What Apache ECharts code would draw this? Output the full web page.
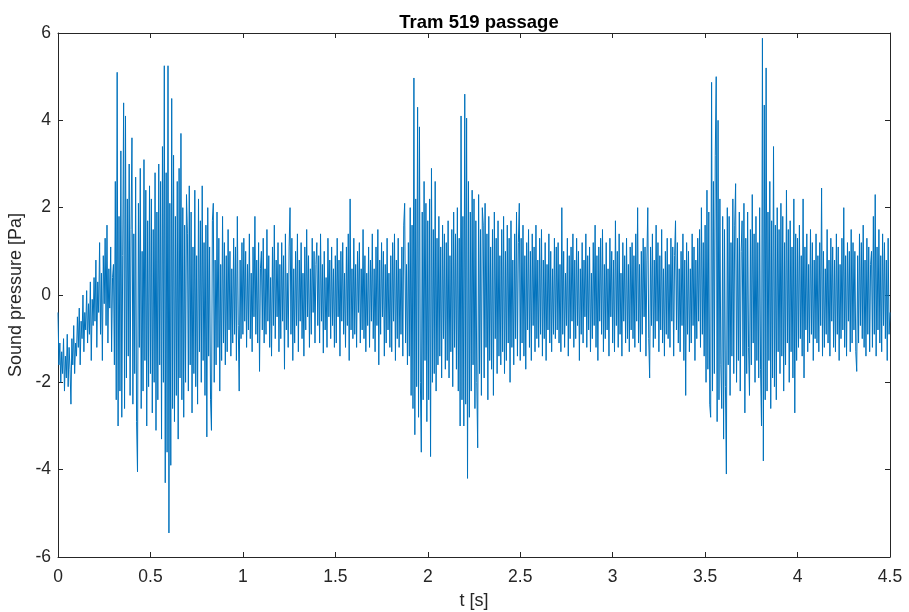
<!DOCTYPE html>
<html>
<head>
<meta charset="utf-8">
<script src="https://cdn.jsdelivr.net/npm/echarts@6/dist/echarts.min.js"></script>
<style>html,body{margin:0;padding:0;background:#fff}#c{width:909px;height:612px}</style>
</head>
<body>
<div id="c"></div>
<script>
const titleText = 'Tram 519 passage';
const xLabel = 't [s]';
const yLabel = 'Sound pressure [Pa]';
const sampleStep = 0.005; // s between samples
const xTicks = [0, 0.5, 1, 1.5, 2, 2.5, 3, 3.5, 4, 4.5];
const yTicks = [-6, -4, -2, 0, 2, 4, 6];

// Sound pressure [Pa], 0.5 s per array
const p_0_05 = [
-0.4,-1.6,-1.1,-2.0,-1.3,-1.8,-1.0,-2.2,-1.4,-1.9,-0.9,-2.1,-1.2,-1.7,-2.5,-1.0,-1.6,-0.7,-1.8,-1.1,
-1.4,-0.5,-1.2,-0.3,-1.6,-0.6,-1.0,0.0,-1.3,-0.4,-0.8,0.1,-1.1,-0.2,-0.9,0.3,-1.5,-0.1,-0.7,0.4,
-0.6,0.8,-1.2,0.3,-0.4,1.2,-0.9,0.5,-1.5,0.9,-0.2,1.3,-0.7,1.6,-1.1,0.6,-0.3,1.1,-1.3,0.4,
0.7,-1.6,2.6,-2.4,5.1,-3.0,1.8,-2.2,3.3,-2.8,0.9,4.4,-2.6,4.1,-1.9,2.2,-1.4,3.0,-2.3,1.5,
3.6,-2.5,1.4,-1.8,2.7,-2.9,-4.05,2.1,-1.2,2.9,-2.6,1.0,-2.2,3.1,-1.5,2.4,-3.0,1.7,-2.1,2.5
];
const p_05_1 = [
-1.8,2.2,-2.7,1.5,-2.0,2.8,-3.1,1.9,-2.4,3.0,-1.6,2.6,-3.3,3.4,-2.0,5.25,-4.3,2.8,-3.6,5.25,
-5.45,2.1,-3.9,4.5,-2.6,3.2,-2.9,1.8,-2.3,2.6,-3.3,2.9,-1.9,3.7,-2.4,2.0,-2.8,1.6,-2.0,2.3,
1.4,-2.2,2.5,-1.6,1.9,-2.7,1.1,-1.8,2.4,-2.1,0.9,-2.5,2.2,-1.3,1.7,-2.0,2.5,-1.5,1.2,-2.3,
1.6,-3.25,2.0,-1.4,1.1,-2.4,-3.1,1.7,2.1,-2.0,0.8,-1.6,1.9,-1.2,1.3,-2.2,0.7,-1.5,1.8,-1.1,
1.2,-1.6,0.9,-1.3,1.5,-0.8,1.0,-1.4,0.6,-1.1,1.3,-0.9,1.1,-1.5,1.8,-0.7,-2.2,0.8,-1.0,1.2
];
const p_1_15 = [
-0.9,1.3,-0.6,1.0,-1.2,0.7,-0.8,1.4,-1.0,0.5,-1.3,1.1,-0.5,1.8,-0.9,0.8,-1.1,1.2,-1.75,0.6,
1.0,-0.8,1.3,-1.1,0.6,-0.9,1.5,-0.6,0.9,-1.2,0.4,-1.4,1.1,-0.7,1.6,-1.0,0.8,-0.5,1.2,-1.3,
0.7,-1.0,1.2,-0.6,0.9,-1.7,1.4,-0.8,0.5,-1.2,1.1,2.0,-0.9,1.3,-1.5,0.6,-1.1,1.0,-0.7,1.4,
-1.3,0.8,-0.6,1.2,-1.0,0.5,-1.4,1.1,-0.8,1.5,-0.5,0.9,-1.2,0.6,-0.9,1.3,-0.4,1.0,-1.1,0.7,
1.2,-0.7,0.9,-1.1,1.4,-0.6,0.7,-1.33,1.0,-0.8,0.4,-1.2,1.3,-0.5,0.8,-1.0,1.1,-0.7,0.6,-1.2
];
const p_15_2 = [
0.9,-1.1,1.3,-0.5,0.8,-1.4,1.0,-0.6,1.2,-0.9,0.5,-1.2,1.1,-0.7,1.4,-1.5,2.2,-0.8,0.6,-1.0,
1.3,-0.9,0.7,-1.2,1.0,-0.4,1.2,-1.1,0.6,-0.8,1.5,-1.0,0.9,-1.3,0.5,-0.7,1.1,-1.2,0.8,-0.6,
1.4,-1.0,0.6,-1.3,1.1,-0.7,1.5,-1.6,0.8,-0.9,1.2,-0.5,1.0,-1.4,0.7,-1.1,1.3,-0.8,0.5,-1.2,
0.9,-1.3,1.2,-0.6,1.4,-1.5,0.8,-1.0,1.3,-1.2,0.6,-0.9,1.1,-1.4,1.6,2.1,-1.1,0.7,-1.6,1.2,
-1.4,2.0,-2.3,1.6,-2.6,4.97,-3.2,2.2,-2.1,4.3,-2.8,3.85,-2.0,-3.6,1.9,-2.4,2.6,-1.5,2.1,-2.9
];
const p_2_25 = [
1.7,-2.4,2.2,-3.7,2.9,-2.0,1.5,-1.8,2.6,-2.2,1.3,-1.6,1.8,-1.4,1.1,-1.9,1.6,-1.0,1.4,-1.7,
1.2,-1.5,1.7,-1.9,0.9,-1.3,1.5,-2.1,1.9,-1.2,1.4,-1.7,2.0,-2.2,1.3,-3.0,4.1,-2.4,1.8,-3.0,
4.6,-2.5,4.05,-4.2,2.6,-2.8,1.9,-2.2,2.4,-1.6,2.2,-2.6,1.7,-2.0,-3.5,2.3,-1.8,1.5,-2.3,2.0,
1.6,-1.9,2.1,-1.2,1.4,-2.4,1.8,-1.5,1.1,-1.7,1.5,-2.3,1.9,-1.0,1.3,-1.8,1.7,-1.4,0.9,-1.6,
1.5,-1.3,1.8,-1.8,1.0,-1.5,1.6,-1.1,1.3,-2.0,1.7,-1.2,0.8,-1.6,1.4,-1.0,1.9,-1.4,1.2,2.1
];
const p_25_3 = [
-1.5,1.3,-1.1,1.6,-1.4,0.9,-1.7,1.2,-0.8,1.5,-1.2,1.0,-1.5,1.4,-0.7,1.1,-1.3,1.6,-1.0,0.8,
-1.2,1.3,-0.9,1.5,-1.4,0.8,-1.0,1.2,-1.5,0.7,-0.8,1.4,-1.1,1.0,-1.3,0.6,-0.9,1.3,-1.0,1.1,
-0.8,1.2,-1.1,0.7,-1.3,2.0,-0.9,1.0,-1.2,0.5,-0.7,1.3,-1.4,0.9,-1.0,1.1,-0.6,1.4,-1.2,0.8,
-1.0,1.3,-0.7,1.0,-1.5,0.6,-0.9,1.2,-1.1,0.8,-0.5,1.4,-1.2,0.9,-0.8,1.1,-1.3,0.5,-1.0,1.2,
-0.7,1.6,-1.2,0.9,-1.5,1.1,-0.6,1.3,-0.9,1.5,-1.3,0.7,-1.0,1.2,-0.8,0.6,-1.4,1.3,-0.5,1.0
];
const p_3_35 = [
-1.1,0.8,-1.3,1.7,-0.7,1.0,-1.2,1.4,-0.9,0.5,-1.4,1.2,-0.6,0.9,-1.1,1.3,-1.0,0.7,-1.3,1.1,
-0.8,1.2,-1.0,0.9,-1.2,1.4,-0.6,2.0,-1.1,0.7,-1.3,1.0,-0.9,1.3,-0.5,1.1,-1.4,0.8,2.0,-1.0,
-1.9,1.1,-0.7,1.4,-1.2,0.8,-1.0,1.6,-0.6,1.2,-1.3,0.9,-0.8,1.5,-1.1,0.6,-1.4,1.0,-0.9,1.3,
-1.0,0.7,-1.2,1.3,-0.6,1.1,-1.4,0.9,1.7,-0.8,1.2,-1.1,0.6,-1.3,1.0,-0.7,1.4,-1.5,0.8,-2.3,
1.2,-0.9,1.0,-1.3,0.6,-1.1,1.4,-0.7,1.1,-1.5,0.8,-1.0,1.3,-0.6,1.5,-1.2,2.0,-0.9,1.2,-1.4
];
const p_35_4 = [
1.6,-2.0,2.4,-1.7,1.9,-2.5,-2.8,4.87,-2.2,2.6,-1.8,3.2,5.0,-2.9,4.0,-2.4,2.2,-1.6,-2.6,1.8,
-3.3,1.5,-2.1,-4.1,2.0,-1.6,1.8,-2.3,1.2,-1.4,2.2,-1.8,1.6,2.55,-2.0,1.3,-1.5,1.9,-2.2,1.0,
1.7,-1.4,2.1,-2.7,1.3,-1.8,1.9,-1.2,-2.3,1.5,-1.6,2.3,-1.1,1.4,-2.0,1.8,-1.5,1.2,-1.9,2.0,
-1.7,-3.0,5.88,-3.8,4.35,-2.4,5.2,-2.2,1.9,-1.5,2.6,-2.6,1.7,-1.9,3.4,-2.1,1.6,-2.4,2.0,-1.3,
1.5,-1.8,2.1,-1.4,1.8,-2.2,1.2,-1.6,2.4,-1.1,1.5,-2.0,1.7,-1.3,1.1,-1.9,2.2,-2.7,1.4,-1.5
];
const p_4_45 = [
1.3,-1.2,1.6,-1.0,0.9,-1.4,2.2,-1.9,1.1,-0.8,1.4,-1.3,0.7,-1.1,1.5,-0.9,1.2,-1.5,0.8,-1.0,
1.4,-1.1,0.9,-1.3,1.2,-0.7,2.45,-1.4,1.0,-1.2,0.6,-0.9,1.5,-1.1,0.8,-1.4,1.3,-0.6,1.1,-1.2,
0.8,-1.3,1.4,-0.9,1.1,-1.5,0.7,-1.0,1.3,-0.8,2.0,-1.2,0.9,-1.4,1.2,-0.6,1.0,-1.3,1.5,-1.1,
1.2,-0.8,1.0,-1.3,-1.75,0.9,-1.1,1.4,-0.7,1.2,-1.0,1.6,-1.2,0.8,-1.4,1.3,-0.9,1.1,-1.3,0.7,
1.0,-1.2,1.8,-0.9,2.3,-1.4,1.1,-0.8,1.5,-1.1,0.9,-1.3,1.4,-0.7,1.2,-1.0,0.8,-1.5,1.3,-0.9,-0.4
];

const pressure = [].concat(p_0_05, p_05_1, p_1_15, p_15_2, p_2_25, p_25_3, p_3_35, p_35_4, p_4_45);
const seriesData = pressure.map((v, i) => [+(i * sampleStep).toFixed(4), v]);

const font = '"Liberation Sans", Arial, Helvetica, sans-serif';
const axisCol = '#262626';
const chart = echarts.init(document.getElementById('c'), null, { renderer: 'canvas' });

const baseX = {
  type: 'value', min: xTicks[0], max: xTicks[xTicks.length - 1], interval: 0.5,
  axisLine: { show: true, onZero: false, lineStyle: { color: axisCol, width: 1 } },
  axisTick: { show: true, inside: true, length: 5, lineStyle: { color: axisCol } },
  splitLine: { show: false }
};
const baseY = {
  type: 'value', min: yTicks[0], max: yTicks[yTicks.length - 1], interval: 2,
  axisLine: { show: true, onZero: false, lineStyle: { color: axisCol, width: 1 } },
  axisTick: { show: true, inside: true, length: 5, lineStyle: { color: axisCol } },
  splitLine: { show: false }
};

chart.setOption({
  animation: false,
  backgroundColor: '#ffffff',
  title: {
    text: titleText, left: 474, textAlign: 'center', top: 8,
    textStyle: { fontFamily: font, fontSize: 18.5, fontWeight: 'bold', color: '#000' }
  },
  grid: { left: 58, right: 19, top: 33, bottom: 55, containLabel: false, outerBoundsMode: 'none' },
  xAxis: [
    Object.assign({}, baseX, {
      position: 'bottom',
      name: xLabel, nameLocation: 'middle', nameGap: 35,
      nameTextStyle: { fontFamily: font, fontSize: 18, color: axisCol },
      axisLabel: { show: true, margin: 11, fontFamily: font, fontSize: 17.5, color: axisCol,
        formatter: v => String(v) }
    }),
    Object.assign({}, baseX, { position: 'top', axisLabel: { show: false } })
  ],
  yAxis: [
    Object.assign({}, baseY, {
      position: 'left',
      name: yLabel, nameLocation: 'middle', nameGap: 31,
      nameTextStyle: { fontFamily: font, fontSize: 18, color: axisCol },
      axisLabel: { show: true, margin: 7, fontFamily: font, fontSize: 17.5, color: axisCol }
    }),
    Object.assign({}, baseY, { position: 'right', axisLabel: { show: false } })
  ],
  series: [{
    type: 'line', data: seriesData, xAxisIndex: 0, yAxisIndex: 0,
    showSymbol: false, symbol: 'none', sampling: null,
    lineStyle: { color: '#0072BD', width: 1 },
    emphasis: { disabled: true }
  }]
});
</script>
</body>
</html>
